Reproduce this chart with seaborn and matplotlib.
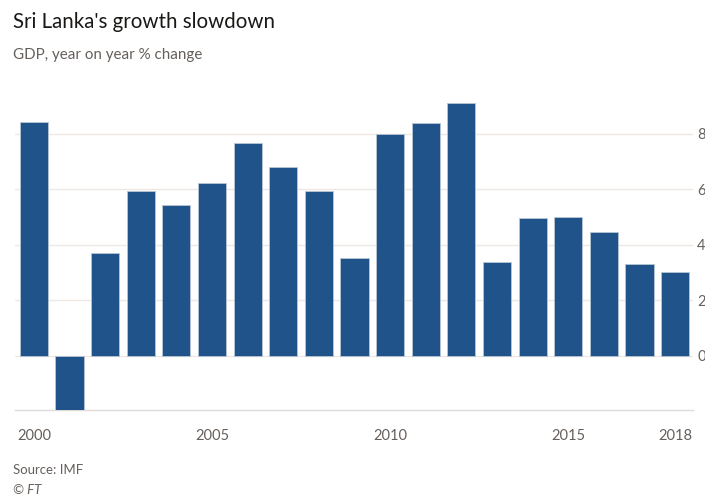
import numpy as np
import pandas as pd
import matplotlib
matplotlib.use("Agg")
import matplotlib.pyplot as plt
import seaborn as sns

# Data
years = [str(y) for y in range(2000, 2019)]
gdp_growth = [8.40, -1.95, 3.71, 5.93, 5.44, 6.23, 7.65, 6.78, 5.94, 3.53,
              8.00, 8.38, 9.11, 3.38, 4.96, 4.98, 4.46, 3.31, 3.02]
labelled_years = ["2000", "2005", "2010", "2015", "2018"]
y_ticks = [0, 2, 4, 6, 8]

df = pd.DataFrame({"Year": years, "GDP": gdp_growth})

sns.set_theme(style="white")
plt.rcParams["font.family"] = ["Lato", "DejaVu Sans"]

bar_colour = "#1f5389"
grid_colour = "#ede8e4"
text_grey = "#66605c"

fig = plt.figure(figsize=(7.05, 4.96), dpi=100)
ax = fig.add_axes([15 / 705, 86 / 496, (693 - 15) / 705, (410 - 97.5) / 496])

sns.barplot(data=df, x="Year", y="GDP", color=bar_colour, saturation=1,
            width=0.79, edgecolor="#b9c6d6", linewidth=0.6, ax=ax, zorder=3)

ax.set_xlim(-0.53, len(years) - 0.5)
ax.set_ylim(min(gdp_growth), 9.3)

# Gridlines
for t in y_ticks:
    ax.axhline(t, color=grid_colour, lw=1, zorder=1)

# Right side y labels (partly cut by the figure edge, as in the original)
ax.yaxis.tick_right()
ax.set_yticks(y_ticks)
ax.set_yticklabels([str(t) for t in y_ticks], color=text_grey, fontsize=10.5)
ax.tick_params(axis="y", length=0, pad=3)

# x ticks at every year, labels only on some
ax.set_xticks(range(len(years)))
ax.set_xticklabels([y if y in labelled_years else "" for y in years],
                   color=text_grey, fontsize=10.5)
ax.tick_params(axis="x", length=10, width=0.8, color="#e0dbd7", pad=4)

for side in ["top", "right", "left"]:
    ax.spines[side].set_visible(False)
ax.spines["bottom"].set_color("#e0dbd7")
ax.spines["bottom"].set_linewidth(1)

ax.set_xlabel("")
ax.set_ylabel("")

fig.text(13 / 705, 1 - 22 / 496, "Sri Lanka's growth slowdown", fontsize=14.8,
         color="#1a1817", va="center", ha="left")
fig.text(13 / 705, 1 - 55 / 496, "GDP, year on year % change", fontsize=10.9,
         color=text_grey, va="center", ha="left")
fig.text(13 / 705, 1 - 470 / 496, "Source: IMF", fontsize=9.5,
         color=text_grey, va="center", ha="left")
fig.text(13 / 705, 1 - 490 / 496, "© FT", fontsize=9.5, style="italic",
         color=text_grey, va="center", ha="left")

fig.savefig("out.png", dpi=100, facecolor="white")
